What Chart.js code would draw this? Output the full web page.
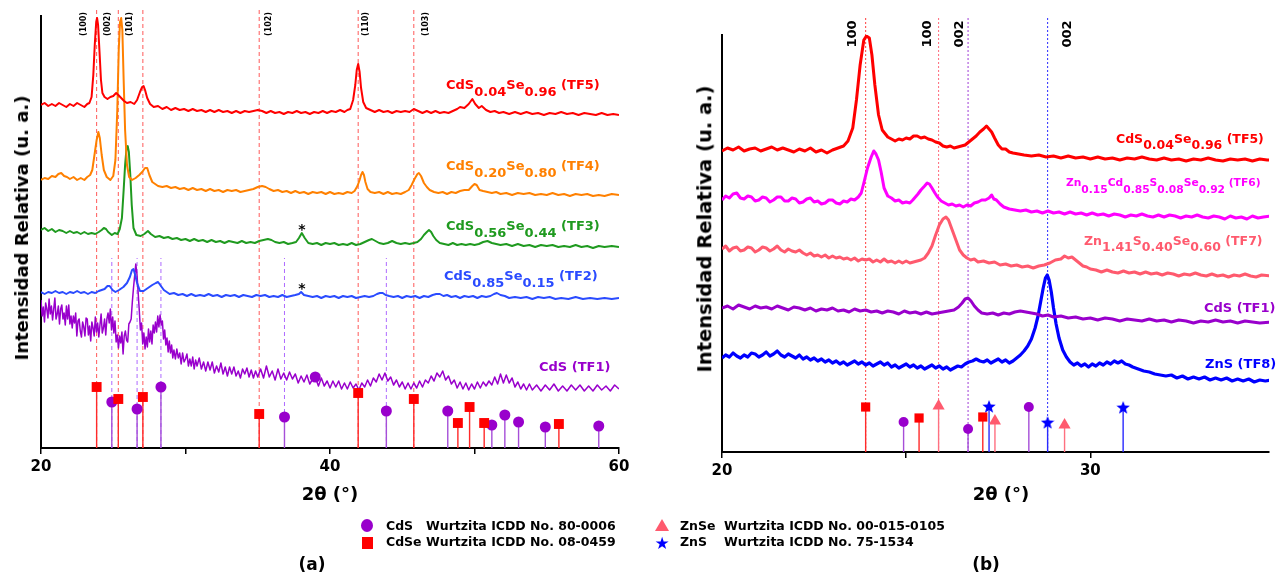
<!DOCTYPE html>
<html>
<head>
<meta charset="utf-8">
<script src="https://cdn.jsdelivr.net/npm/chart.js@4.4.1/dist/chart.umd.min.js"></script>
<style>
body { margin: 0; background: #fff; width: 1276px; height: 573px; overflow: hidden; position: relative; font-family: 'DejaVu Sans', Verdana, sans-serif; font-weight: bold; }
canvas { position: absolute; top: 0; }
.t { position: absolute; white-space: pre; line-height: 1; }
.s { position: relative; top: 7px; }
.s6 { position: relative; top: 6px; }
.c { position: absolute; white-space: pre; line-height: 1; transform: translateX(-50%); }
.rot { position: absolute; white-space: nowrap; line-height: 1; transform: translate(-50%, -50%) rotate(-90deg); }
</style>
</head>
<body>
<canvas id="chartA" width="640" height="500" style="left:0"></canvas>
<canvas id="chartB" width="616" height="500" style="left:660px"></canvas>

<!-- panel (a) text -->
<div class="rot" style="left:22px;top:228px;font-size:18px">Intensidad Relativa (u. a.)</div>
<div class="c" style="left:330px;top:485px;font-size:18px">2θ (°)</div>
<div class="rot" style="left:84px;top:24px;font-size:8px">(100)</div>
<div class="rot" style="left:108px;top:24px;font-size:8px">(002)</div>
<div class="rot" style="left:130px;top:24px;font-size:8px">(101)</div>
<div class="rot" style="left:269px;top:24px;font-size:8px">(102)</div>
<div class="rot" style="left:366px;top:24px;font-size:8px">(110)</div>
<div class="rot" style="left:426px;top:24px;font-size:8px">(103)</div>
<div class="t" style="left:446px;top:78px;color:#ff0000;font-size:13px">CdS<span class="s">0.04</span>Se<span class="s">0.96</span> (TF5)</div>
<div class="t" style="left:446px;top:159px;color:#ff8000;font-size:13px">CdS<span class="s">0.20</span>Se<span class="s">0.80</span> (TF4)</div>
<div class="t" style="left:446px;top:219px;color:#1f9a1f;font-size:13px">CdS<span class="s">0.56</span>Se<span class="s">0.44</span> (TF3)</div>
<div class="t" style="left:444px;top:269px;color:#2a4bff;font-size:13px">CdS<span class="s">0.85</span>Se<span class="s">0.15</span> (TF2)</div>
<div class="t" style="left:539px;top:360px;color:#9900cc;font-size:13px">CdS (TF1)</div>
<div class="c" style="left:302px;top:222px;font-size:14px">*</div>
<div class="c" style="left:302px;top:281px;font-size:14px">*</div>

<!-- panel (b) text -->
<div class="rot" style="left:705px;top:229px;font-size:19.5px">Intensidad Relativa (u. a.)</div>
<div class="c" style="left:1001px;top:485px;font-size:18px">2θ (°)</div>
<div class="rot" style="left:851px;top:34px;font-size:13px">100</div>
<div class="rot" style="left:926px;top:34px;font-size:13px">100</div>
<div class="rot" style="left:958px;top:34px;font-size:13px">002</div>
<div class="rot" style="left:1066px;top:34px;font-size:13px">002</div>
<div class="t" style="left:1116px;top:133px;color:#ff0000;font-size:12.5px">CdS<span class="s6">0.04</span>Se<span class="s6">0.96</span> (TF5)</div>
<div class="t" style="left:1066px;top:178px;color:#ff00ff;font-size:10.7px">Zn<span class="s">0.15</span>Cd<span class="s">0.85</span>S<span class="s">0.08</span>Se<span class="s">0.92</span> (TF6)</div>
<div class="t" style="left:1084px;top:235px;color:#ff5a6e;font-size:12.5px">Zn<span class="s6">1.41</span>S<span class="s6">0.40</span>Se<span class="s6">0.60</span> (TF7)</div>
<div class="t" style="left:1204px;top:301px;color:#9900cc;font-size:13px">CdS (TF1)</div>
<div class="t" style="left:1205px;top:357px;color:#0000ff;font-size:13px">ZnS (TF8)</div>

<!-- legend -->
<div style="position:absolute;left:361px;top:519px;width:12px;height:13px;border-radius:50%;background:#9900cc"></div>
<div style="position:absolute;left:362px;top:537px;width:11px;height:12px;background:#ff0000"></div>
<div style="position:absolute;left:655px;top:519px;width:0;height:0;border-left:7px solid transparent;border-right:7px solid transparent;border-bottom:12px solid #ff5a6e"></div>
<div class="c" style="left:662px;top:535px;font-size:17px;color:#0000ff">★</div>
<div class="t" style="left:386px;top:520px;font-size:12.5px">CdS</div>
<div class="t" style="left:426px;top:520px;font-size:12.5px">Wurtzita ICDD No. 80-0006</div>
<div class="t" style="left:386px;top:536px;font-size:12.5px">CdSe</div>
<div class="t" style="left:426px;top:536px;font-size:12.5px">Wurtzita ICDD No. 08-0459</div>
<div class="t" style="left:680px;top:520px;font-size:12.5px">ZnSe</div>
<div class="t" style="left:724px;top:520px;font-size:12.5px">Wurtzita ICDD No. 00-015-0105</div>
<div class="t" style="left:680px;top:536px;font-size:12.5px">ZnS</div>
<div class="t" style="left:724px;top:536px;font-size:12.5px">Wurtzita ICDD No. 75-1534</div>

<div class="c" style="left:312px;top:556px;font-size:17px">(a)</div>
<div class="c" style="left:986px;top:556px;font-size:17px">(b)</div>

<script>
// ---- panel (a): 2theta vs relative intensity (offset, arbitrary units) ----
const tf5a = [[20,343],[20.25,345],[20.5,342],[20.75,344],[21,342],[21.25,345],[21.5,343],[21.75,341],[22,344],[22.25,342],[22.5,345],[22.75,343],[23,341],[23.2,344],[23.35,345],[23.5,351],[23.62,373],[23.72,403],[23.82,426],[23.88,430],[23.95,423],[24.05,396],[24.15,368],[24.25,355],[24.4,351],[24.6,349],[24.8,351],[25,352],[25.2,355],[25.35,353],[25.55,350],[25.75,347],[25.95,345],[26.2,346],[26.45,344],[26.65,348],[26.85,356],[27,361],[27.1,362],[27.2,358],[27.35,350],[27.55,344],[27.8,341],[28.1,342],[28.4,339],[28.7,341],[29,338],[29.3,340],[29.6,338],[29.9,339],[30.2,337],[30.5,339],[30.8,337],[31.1,338],[31.4,336],[31.7,338],[32,336],[32.3,338],[32.6,336],[32.9,337],[33.2,335],[33.5,337],[33.8,335],[34.1,337],[34.4,336],[34.7,337],[35,338],[35.3,337],[35.6,335],[35.9,337],[36.2,335],[36.5,336],[36.8,334],[37.1,336],[37.4,335],[37.7,337],[38,335],[38.3,336],[38.6,334],[38.9,336],[39.2,335],[39.5,337],[39.8,335],[40.1,337],[40.4,336],[40.7,338],[41,336],[41.2,338],[41.4,339],[41.6,348],[41.75,363],[41.85,378],[41.95,384],[42.05,376],[42.15,360],[42.3,346],[42.5,340],[42.8,338],[43.1,336],[43.4,338],[43.7,336],[44,337],[44.3,335],[44.6,337],[44.9,336],[45.2,337],[45.5,336],[45.8,339],[46.1,337],[46.4,335],[46.7,337],[47,335],[47.3,337],[47.6,335],[47.9,336],[48.2,335],[48.5,337],[48.8,339],[49,341],[49.3,340],[49.6,344],[49.85,349],[50.05,344],[50.3,340],[50.5,342],[50.8,338],[51.1,336],[51.4,337],[51.7,335],[52,336],[52.4,334],[52.8,336],[53.2,334],[53.6,336],[54,334],[54.4,335],[54.8,333],[55.2,335],[55.6,334],[56,336],[56.4,334],[56.8,335],[57.2,333],[57.6,335],[58,334],[58.4,333],[58.8,335],[59.2,333],[59.6,334],[60,333]];
const tf4a = [[20,268],[20.25,270],[20.5,269],[20.75,272],[21,271],[21.2,274],[21.4,275],[21.6,272],[21.8,271],[22,269],[22.25,271],[22.5,268],[22.75,270],[23,268],[23.2,271],[23.4,273],[23.55,278],[23.7,293],[23.85,308],[23.97,316],[24.07,310],[24.2,293],[24.35,278],[24.55,271],[24.8,268],[25,272],[25.15,288],[25.28,338],[25.38,398],[25.47,426],[25.55,430],[25.63,418],[25.72,368],[25.82,318],[25.95,283],[26.1,271],[26.3,268],[26.55,270],[26.8,273],[27,276],[27.2,280],[27.35,280],[27.5,273],[27.7,266],[27.9,264],[28.1,262],[28.4,261],[28.7,262],[29,260],[29.3,261],[29.6,259],[29.9,260],[30.2,258],[30.5,260],[30.8,258],[31.1,259],[31.4,257],[31.7,259],[32,257],[32.3,258],[32.6,256],[32.9,258],[33.2,257],[33.5,258],[33.8,256],[34.1,257],[34.4,258],[34.7,259],[35,261],[35.3,262],[35.55,261],[35.8,259],[36.1,257],[36.4,258],[36.7,256],[37,257],[37.3,255],[37.6,257],[37.9,255],[38.2,256],[38.5,254],[38.8,256],[39.1,255],[39.4,256],[39.7,254],[40,256],[40.3,254],[40.6,255],[40.9,254],[41.2,256],[41.5,255],[41.7,257],[41.9,262],[42.05,268],[42.15,273],[42.25,276],[42.35,273],[42.45,266],[42.6,259],[42.8,256],[43.1,255],[43.4,256],[43.7,254],[44,256],[44.3,254],[44.6,255],[44.9,254],[45.2,256],[45.45,258],[45.65,263],[45.85,269],[46.05,274],[46.15,275],[46.3,272],[46.5,265],[46.7,261],[46.9,258],[47.2,256],[47.5,255],[47.8,256],[48.1,254],[48.4,256],[48.7,255],[49,257],[49.3,258],[49.6,258],[49.85,262],[50,264],[50.15,263],[50.35,258],[50.6,257],[50.9,256],[51.2,255],[51.5,256],[51.8,254],[52.2,255],[52.6,253],[53,255],[53.4,254],[53.8,255],[54.2,253],[54.6,254],[55,253],[55.4,255],[55.8,253],[56.2,254],[56.6,252],[57,254],[57.4,253],[57.8,254],[58.2,252],[58.6,253],[59,252],[59.5,254],[60,253]];
const tf3a = [[20,218],[20.25,220],[20.5,217],[20.75,219],[21,216],[21.25,218],[21.5,217],[21.75,215],[22,217],[22.25,215],[22.5,216],[22.75,214],[23,216],[23.25,214],[23.5,215],[23.75,214],[24,216],[24.2,218],[24.35,220],[24.5,219],[24.65,216],[24.9,213],[25.1,215],[25.3,214],[25.45,219],[25.6,230],[25.72,258],[25.82,283],[25.92,300],[26,302],[26.08,296],[26.18,273],[26.28,243],[26.4,220],[26.6,213],[26.9,212],[27.15,214],[27.4,217],[27.6,214],[27.9,211],[28.2,212],[28.5,210],[28.8,211],[29.1,209],[29.4,210],[29.7,208],[30,209],[30.3,207],[30.6,209],[30.9,207],[31.2,208],[31.5,206],[31.8,208],[32.1,206],[32.4,207],[32.7,205],[33,207],[33.3,206],[33.6,205],[33.9,207],[34.2,205],[34.5,206],[34.8,205],[35.1,207],[35.4,208],[35.7,209],[35.95,208],[36.2,206],[36.5,205],[36.8,206],[37.1,204],[37.4,205],[37.65,206],[37.85,210],[38.05,215],[38.25,210],[38.5,205],[38.8,204],[39.1,205],[39.4,203],[39.7,205],[40,204],[40.3,205],[40.6,203],[40.9,204],[41.2,203],[41.5,205],[41.8,203],[42.1,204],[42.4,206],[42.7,208],[42.9,209],[43.15,207],[43.4,205],[43.7,204],[44,205],[44.3,207],[44.6,205],[44.9,204],[45.2,205],[45.5,204],[45.8,205],[46.05,206],[46.3,209],[46.5,213],[46.7,216],[46.85,218],[47,216],[47.15,212],[47.35,208],[47.6,205],[47.9,204],[48.2,203],[48.5,205],[48.8,203],[49.1,204],[49.4,203],[49.7,204],[50,203],[50.3,204],[50.6,206],[50.9,207],[51.2,205],[51.5,204],[51.8,203],[52.2,204],[52.6,202],[53,204],[53.4,202],[53.8,203],[54.2,201],[54.6,203],[55,202],[55.4,203],[55.8,201],[56.2,202],[56.6,201],[57,203],[57.4,201],[57.8,202],[58.2,200],[58.6,202],[59,201],[59.5,202],[60,201]];
const tf2a = [[20,156],[20.25,154],[20.5,156],[20.75,155],[21,157],[21.25,155],[21.5,156],[21.75,154],[22,156],[22.25,155],[22.5,157],[22.75,155],[23,156],[23.25,154],[23.5,156],[23.75,155],[24,157],[24.2,158],[24.4,159],[24.6,162],[24.75,162],[24.95,158],[25.15,156],[25.4,158],[25.7,161],[25.95,165],[26.15,171],[26.3,178],[26.4,179],[26.5,174],[26.65,165],[26.85,157],[27.1,157],[27.4,160],[27.7,163],[27.95,165],[28.1,166],[28.25,163],[28.5,158],[28.7,156],[28.9,154],[29.2,155],[29.5,153],[29.8,154],[30.1,152],[30.4,154],[30.7,152],[31,153],[31.3,152],[31.6,154],[31.9,152],[32.2,153],[32.5,151],[32.8,153],[33.1,152],[33.4,153],[33.7,151],[34,153],[34.3,152],[34.6,151],[34.9,153],[35.2,152],[35.5,153],[35.8,151],[36.1,152],[36.4,151],[36.7,153],[37,151],[37.3,152],[37.6,153],[37.85,154],[38,156],[38.2,153],[38.5,152],[38.8,151],[39.1,152],[39.4,150],[39.7,152],[40,151],[40.3,152],[40.6,150],[40.9,152],[41.2,151],[41.5,152],[41.8,150],[42.1,151],[42.4,152],[42.7,151],[43,152],[43.25,154],[43.45,155],[43.65,155],[43.85,153],[44.1,152],[44.4,151],[44.7,152],[45,150],[45.3,152],[45.6,151],[45.9,152],[46.2,150],[46.5,152],[46.8,151],[47.1,153],[47.35,154],[47.6,154],[47.85,152],[48.1,153],[48.4,151],[48.7,152],[49,150],[49.3,152],[49.6,151],[49.9,152],[50.2,150],[50.5,152],[50.8,151],[51.1,152],[51.35,154],[51.55,155],[51.8,153],[52.1,152],[52.4,150],[52.8,151],[53.2,150],[53.6,151],[54,149],[54.4,151],[54.8,150],[55.2,151],[55.6,149],[56,150],[56.5,149],[57,151],[57.5,149],[58,150],[58.5,149],[59,150],[59.5,149],[60,150]];
const tf1a = [[20,148],[20.08,132],[20.16,141],[20.24,126],[20.32,145],[20.4,139],[20.48,130],[20.56,149],[20.64,134],[20.72,142],[20.8,128],[20.88,139],[20.96,150],[21.04,129],[21.12,134],[21.2,142],[21.28,124],[21.36,139],[21.44,143],[21.52,129],[21.6,135],[21.68,123],[21.76,142],[21.84,129],[21.92,143],[22,124],[22.08,132],[22.16,120],[22.24,132],[22.32,125],[22.4,135],[22.48,112],[22.56,127],[22.64,129],[22.72,117],[22.8,111],[22.88,126],[22.96,121],[23.04,112],[23.12,130],[23.2,129],[23.28,113],[23.36,122],[23.44,107],[23.52,126],[23.6,120],[23.68,112],[23.76,131],[23.84,116],[23.92,125],[24,111],[24.08,123],[24.16,134],[24.24,115],[24.32,120],[24.4,129],[24.48,113],[24.56,129],[24.64,135],[24.72,125],[24.8,139],[24.88,118],[24.96,131],[25.04,115],[25.12,127],[25.2,106],[25.28,113],[25.36,100],[25.44,112],[25.52,105],[25.6,116],[25.68,94],[25.76,112],[25.84,117],[25.92,108],[26,106],[26.08,124],[26.16,126],[26.24,129],[26.32,146],[26.4,160],[26.48,172],[26.56,184],[26.64,174],[26.72,156],[26.8,138],[26.88,118],[26.96,125],[27.04,104],[27.12,115],[27.2,99],[27.28,111],[27.36,101],[27.44,119],[27.52,106],[27.6,117],[27.68,104],[27.76,123],[27.84,115],[27.92,126],[28,116],[28.08,132],[28.16,121],[28.24,133],[28.32,123],[28.4,127],[28.48,109],[28.56,118],[28.64,103],[28.72,110],[28.8,96],[28.88,107],[28.96,95],[29.04,103],[29.12,90],[29.2,98],[29.3,89],[29.4,99],[29.5,90],[29.6,95],[29.7,84],[29.8,95],[29.9,86],[30,89],[30.1,94],[30.2,82],[30.3,89],[30.4,82],[30.5,91],[30.6,79],[30.7,88],[30.8,82],[30.95,90],[31.1,79],[31.25,86],[31.4,77],[31.55,86],[31.7,78],[31.85,86],[32,75],[32.15,82],[32.3,76],[32.45,85],[32.6,74],[32.75,81],[32.9,72],[33.05,81],[33.2,74],[33.35,81],[33.5,72],[33.65,77],[33.8,70],[33.95,79],[34.1,74],[34.25,80],[34.4,71],[34.55,78],[34.7,70],[34.85,77],[35,71],[35.2,79],[35.4,70],[35.6,82],[35.8,71],[36,77],[36.2,68],[36.4,79],[36.6,69],[36.8,75],[37,68],[37.2,76],[37.4,69],[37.6,74],[37.8,65],[38,72],[38.2,66],[38.4,73],[38.6,64],[38.8,69],[39,70],[39.2,62],[39.4,70],[39.6,62],[39.8,67],[40,60],[40.2,67],[40.4,61],[40.6,67],[40.8,59],[41,65],[41.2,59],[41.4,66],[41.6,60],[41.8,64],[42,58],[42.2,65],[42.4,61],[42.6,68],[42.8,62],[43,70],[43.2,66],[43.4,74],[43.6,68],[43.8,75],[44,67],[44.2,71],[44.4,63],[44.6,68],[44.8,61],[45,66],[45.2,59],[45.4,65],[45.6,59],[45.8,65],[46,60],[46.2,67],[46.4,61],[46.6,68],[46.8,65],[47,72],[47.2,67],[47.4,75],[47.6,71],[47.8,77],[48,68],[48.2,72],[48.4,64],[48.6,68],[48.8,60],[49,66],[49.2,59],[49.4,65],[49.6,58],[49.8,64],[50,59],[50.2,66],[50.4,60],[50.6,66],[50.8,62],[51,67],[51.2,63],[51.4,71],[51.6,64],[51.8,74],[52,65],[52.2,73],[52.4,65],[52.6,70],[52.8,61],[53,66],[53.2,59],[53.4,64],[53.6,58],[53.8,64],[54,58],[54.3,63],[54.6,57],[54.9,63],[55.2,58],[55.5,64],[55.8,57],[56.1,62],[56.4,57],[56.7,63],[57,58],[57.3,63],[57.6,57],[57.9,62],[58.2,57],[58.5,63],[58.8,58],[59.1,62],[59.4,57],[59.7,63],[60,59]];

// reference patterns, panel (a): [2theta, stick height]
const cdseA = [[23.85,61],[25.35,49],[27.05,51],[35.1,34],[41.95,55],[45.8,49],[48.85,25],[49.66,41],[50.67,25],[55.84,24]];
const cdsA = [[24.9,46],[26.65,39],[28.3,61],[36.85,31],[43.9,37],[48.15,37],[51.2,23],[52.1,33],[53.05,26],[54.9,21],[58.6,22]];
const cdsLoneA = [[38.98,71]];
const refRedA = [23.85, 25.35, 27.05, 35.1, 41.95, 45.8];
const refPurpleA = [24.9, 26.65, 28.3, 36.85, 43.9];

// ---- panel (b) ----
const tf5b = [[20,301],[20.15,304],[20.3,302],[20.45,305],[20.6,301],[20.75,303],[20.9,304],[21.05,301],[21.2,303],[21.35,305],[21.5,302],[21.65,304],[21.8,302],[21.95,300],[22.1,303],[22.25,301],[22.4,304],[22.55,300],[22.7,302],[22.85,299],[23,302],[23.15,304],[23.3,306],[23.42,311],[23.55,324],[23.65,352],[23.75,387],[23.85,412],[23.92,416],[24,414],[24.07,397],[24.15,367],[24.25,337],[24.35,322],[24.5,315],[24.6,313],[24.7,311],[24.8,313],[24.9,312],[25,314],[25.1,313],[25.2,316],[25.3,316],[25.4,314],[25.5,315],[25.6,313],[25.7,312],[25.8,310],[25.9,309],[26,306],[26.1,305],[26.2,306],[26.3,304],[26.4,305],[26.5,306],[26.6,307],[26.7,310],[26.8,313],[26.9,316],[27,320],[27.1,323],[27.18,326],[27.25,323],[27.32,320],[27.4,314],[27.5,307],[27.6,303],[27.7,303],[27.8,300],[27.9,299],[28.05,298],[28.2,297],[28.4,296],[28.6,297],[28.8,295],[29,296],[29.2,294],[29.4,296],[29.6,294],[29.8,295],[30,293],[30.2,295],[30.4,293],[30.6,294],[30.8,292],[31,294],[31.2,293],[31.4,295],[31.6,293],[31.8,292],[32,294],[32.2,292],[32.4,293],[32.6,291],[32.8,293],[33,292],[33.2,294],[33.4,292],[33.6,291],[33.8,293],[34,292],[34.2,293],[34.4,291],[34.6,293],[34.8,292],[34.9,292]];
const tf6b = [[20,252],[20.1,256],[20.2,254],[20.3,258],[20.4,259],[20.5,254],[20.6,253],[20.7,256],[20.8,255],[20.9,251],[21,252],[21.1,255],[21.2,254],[21.3,250],[21.4,252],[21.5,255],[21.6,255],[21.7,251],[21.8,251],[21.9,254],[22,253],[22.1,249],[22.2,250],[22.3,253],[22.4,254],[22.5,250],[22.6,251],[22.7,248],[22.8,249],[22.9,252],[23,252],[23.1,249],[23.2,248],[23.3,251],[23.4,250],[23.5,253],[23.6,252],[23.7,255],[23.78,259],[23.85,269],[23.95,284],[24.05,295],[24.12,301],[24.18,298],[24.25,292],[24.32,280],[24.4,264],[24.5,256],[24.6,254],[24.7,251],[24.8,252],[24.9,249],[25,250],[25.1,249],[25.18,252],[25.25,255],[25.32,258],[25.4,262],[25.5,266],[25.57,269],[25.63,268],[25.7,264],[25.78,259],[25.85,255],[25.95,251],[26.05,249],[26.15,247],[26.25,248],[26.35,246],[26.45,247],[26.55,245],[26.65,247],[26.75,246],[26.85,249],[26.95,250],[27.05,252],[27.15,252],[27.25,254],[27.32,257],[27.38,253],[27.45,252],[27.55,248],[27.65,245],[27.8,243],[27.95,242],[28.1,241],[28.25,242],[28.4,240],[28.55,241],[28.7,239],[28.85,241],[29,239],[29.15,240],[29.3,238],[29.45,240],[29.6,238],[29.75,239],[29.9,237],[30.05,239],[30.2,237],[30.35,238],[30.5,236],[30.65,238],[30.8,237],[30.95,235],[31.1,237],[31.25,236],[31.4,238],[31.55,236],[31.7,235],[31.85,237],[32,235],[32.15,237],[32.3,236],[32.45,234],[32.6,236],[32.75,235],[32.9,237],[33.05,235],[33.2,234],[33.35,236],[33.5,235],[33.65,233],[33.8,236],[33.95,234],[34.1,235],[34.25,233],[34.4,236],[34.55,234],[34.7,235],[34.9,236]];
const tf7b = [[20,203],[20.1,206],[20.2,201],[20.3,204],[20.4,205],[20.5,201],[20.6,202],[20.7,205],[20.8,204],[20.9,200],[21,202],[21.1,205],[21.2,204],[21.3,201],[21.4,203],[21.5,206],[21.6,202],[21.7,200],[21.8,203],[21.9,201],[22,200],[22.1,202],[22.2,199],[22.3,197],[22.4,199],[22.5,196],[22.6,197],[22.7,195],[22.8,197],[22.9,194],[23,196],[23.1,194],[23.2,195],[23.3,193],[23.4,194],[23.5,192],[23.6,194],[23.7,191],[23.8,193],[23.9,192],[24,193],[24.1,190],[24.2,192],[24.3,190],[24.4,193],[24.5,190],[24.6,191],[24.7,189],[24.8,191],[24.9,189],[25,191],[25.1,189],[25.2,190],[25.3,191],[25.4,192],[25.5,194],[25.6,199],[25.7,206],[25.8,217],[25.9,227],[26,233],[26.08,235],[26.15,232],[26.25,222],[26.35,212],[26.45,202],[26.55,197],[26.65,194],[26.75,192],[26.85,193],[26.95,190],[27.1,191],[27.25,189],[27.4,190],[27.55,187],[27.7,188],[27.85,186],[28,187],[28.15,185],[28.3,186],[28.45,184],[28.6,186],[28.75,187],[28.9,189],[29.05,192],[29.2,193],[29.3,196],[29.4,194],[29.5,195],[29.6,192],[29.7,189],[29.8,186],[29.9,185],[30,183],[30.15,182],[30.3,180],[30.45,182],[30.6,180],[30.75,179],[30.9,181],[31.05,179],[31.2,180],[31.35,178],[31.5,180],[31.65,178],[31.8,179],[31.95,177],[32.1,179],[32.25,178],[32.4,176],[32.55,178],[32.7,177],[32.85,179],[33,177],[33.15,176],[33.3,178],[33.45,176],[33.6,177],[33.75,175],[33.9,177],[34.05,176],[34.2,178],[34.35,176],[34.5,175],[34.65,177],[34.9,176]];
const tf1b = [[20,144],[20.15,146],[20.3,143],[20.45,147],[20.6,145],[20.75,143],[20.9,146],[21.05,144],[21.2,145],[21.35,143],[21.5,146],[21.65,144],[21.8,142],[21.95,145],[22.1,144],[22.25,142],[22.4,144],[22.55,141],[22.7,143],[22.85,142],[23,144],[23.15,141],[23.3,142],[23.45,140],[23.6,143],[23.75,141],[23.9,142],[24.05,140],[24.2,141],[24.35,139],[24.5,141],[24.65,140],[24.8,138],[24.95,141],[25.1,139],[25.25,140],[25.4,138],[25.55,140],[25.7,138],[25.85,139],[26,140],[26.15,141],[26.3,142],[26.42,145],[26.52,149],[26.6,153],[26.68,154],[26.76,151],[26.85,146],[26.95,142],[27.05,139],[27.2,138],[27.35,139],[27.5,137],[27.65,139],[27.8,138],[27.95,140],[28.1,141],[28.25,140],[28.4,139],[28.55,138],[28.7,136],[28.85,137],[29,135],[29.2,136],[29.4,134],[29.6,135],[29.8,133],[30,134],[30.2,132],[30.4,134],[30.6,133],[30.8,131],[31,133],[31.2,132],[31.4,131],[31.6,133],[31.8,131],[32,132],[32.2,130],[32.4,132],[32.6,131],[32.8,129],[33,131],[33.2,130],[33.4,132],[33.6,130],[33.8,131],[34,129],[34.2,131],[34.4,130],[34.6,129],[34.9,130]];
const tf8b = [[20,94],[20.1,97],[20.2,95],[20.3,99],[20.4,96],[20.5,94],[20.6,97],[20.7,95],[20.8,99],[20.9,98],[21,95],[21.1,97],[21.2,100],[21.3,96],[21.4,98],[21.5,101],[21.6,97],[21.7,95],[21.8,98],[21.9,96],[22,94],[22.1,97],[22.2,93],[22.3,95],[22.4,92],[22.5,94],[22.6,91],[22.7,93],[22.8,90],[22.9,92],[23,89],[23.1,91],[23.2,88],[23.3,90],[23.4,87],[23.5,89],[23.6,91],[23.7,88],[23.8,90],[23.9,87],[24,89],[24.1,86],[24.2,88],[24.3,90],[24.4,87],[24.5,89],[24.6,85],[24.7,87],[24.8,84],[24.9,86],[25,88],[25.1,85],[25.2,87],[25.3,84],[25.4,86],[25.5,83],[25.6,85],[25.7,87],[25.8,84],[25.9,86],[26,83],[26.1,85],[26.2,82],[26.3,84],[26.4,86],[26.5,85],[26.6,88],[26.7,90],[26.8,91],[26.9,93],[27,91],[27.1,90],[27.2,92],[27.3,89],[27.4,91],[27.5,93],[27.6,90],[27.7,92],[27.8,89],[27.9,91],[28,94],[28.1,97],[28.2,101],[28.3,106],[28.4,113],[28.5,124],[28.58,136],[28.65,150],[28.72,164],[28.78,174],[28.83,177],[28.88,172],[28.94,160],[29,144],[29.07,128],[29.15,114],[29.25,102],[29.35,95],[29.45,90],[29.55,87],[29.65,89],[29.75,86],[29.85,88],[29.95,85],[30.05,88],[30.15,86],[30.25,89],[30.35,87],[30.45,90],[30.55,88],[30.65,91],[30.75,89],[30.85,91],[30.95,88],[31.05,87],[31.15,85],[31.3,83],[31.45,81],[31.6,80],[31.75,78],[31.9,77],[32.05,76],[32.2,77],[32.35,74],[32.5,76],[32.65,73],[32.8,75],[32.95,73],[33.1,75],[33.25,72],[33.4,74],[33.55,72],[33.7,74],[33.85,71],[34,73],[34.15,71],[34.3,73],[34.45,70],[34.6,72],[34.75,71],[34.9,72]];

const cdseB = [[23.9,45],[25.35,34],[27.08,35]];
const cdsB = [[24.93,30],[26.68,23],[28.33,45]];
const znseB = [[25.88,46],[27.41,31],[29.3,27]];
const znsB = [[27.25,45],[28.84,29],[30.89,44]];
const refB = [[23.9,'rgba(255,40,40,0.9)'],[25.88,'rgba(255,90,110,0.9)'],[26.68,'rgba(150,40,210,0.9)'],[28.84,'rgba(20,20,255,0.9)']];

// ---- helpers ----
const pts = arr => arr.map(p => ({ x: p[0], y: p[1] }));

function stemPts(arr) {
    const out = [];
    arr.forEach(p => { out.push({ x: p[0], y: 0 }, { x: p[0], y: p[1] }, { x: p[0], y: null }); });
    return out;
}

function vlinePts(xs, top) {
    return stemPts(xs.map(x => [x, top]));
}

function trace(data, color, width) {
    return { data: pts(data), borderColor: color, borderWidth: width, showLine: true, pointRadius: 0, tension: 0, borderJoinStyle: 'round', order: 3 };
}

function stemSet(data, color) {
    return { data: stemPts(data), borderColor: color, borderWidth: 1.4, showLine: true, pointRadius: 0, spanGaps: false, order: 2 };
}

function markSet(data, style, color, r) {
    return { data: pts(data), showLine: false, pointStyle: style, pointRadius: r, backgroundColor: color, borderColor: color, borderWidth: 0, order: 1 };
}

function refSet(xs, top, color, dash) {
    return { data: vlinePts(xs, top), borderColor: color, borderWidth: 1, borderDash: dash, showLine: true, pointRadius: 0, spanGaps: false, clip: false, order: 4 };
}

function starImage(size, color) {
    const c = document.createElement('canvas');
    c.width = size; c.height = size;
    const g = c.getContext('2d');
    g.fillStyle = color;
    g.beginPath();
    for (let i = 0; i < 10; i++) {
        const r = i % 2 ? size * 0.21 : size / 2;
        const a = -Math.PI / 2 + i * Math.PI / 5;
        g.lineTo(size / 2 + r * Math.cos(a), size / 2 + r * Math.sin(a));
    }
    g.closePath();
    g.fill();
    return c;
}

const tickFont = { family: 'DejaVu Sans', weight: 'bold', size: 15 };

function xScale(min, max, step, shown, height) {
    return {
        type: 'linear', min: min, max: max, position: 'bottom',
        afterFit: s => { s.height = height; },
        border: { display: true, color: '#000', width: 2 },
        grid: { display: true, drawOnChartArea: false, drawTicks: true, tickLength: 6, color: '#000', lineWidth: 1.5 },
        ticks: { stepSize: step, includeBounds: false, autoSkip: false, maxRotation: 0, padding: 4, color: '#000', font: tickFont,
                 callback: v => shown.includes(v) ? v : '' }
    };
}

function yScale(max, width) {
    return {
        min: 0, max: max,
        afterFit: s => { s.width = width; },
        border: { display: true, color: '#000', width: 2 },
        grid: { display: false },
        ticks: { display: false }
    };
}

const baseOpts = { responsive: false, animation: false, events: [], plugins: { legend: { display: false }, tooltip: { enabled: false } } };

new Chart(document.getElementById('chartA'), {
    type: 'scatter',
    data: {
        datasets: [
            markSet(cdseA, 'rect', '#ff0000', 7),
            markSet(cdsA, 'circle', '#9900cc', 5.5),
            markSet(cdsLoneA, 'circle', '#9900cc', 5.5),
            stemSet(cdseA, '#ff2a2a'),
            stemSet(cdsA, '#a64fd8'),
            trace(tf5a, '#ff0000', 2),
            trace(tf4a, '#ff8000', 2),
            trace(tf3a, '#1f9a1f', 2),
            trace(tf2a, '#2a4bff', 2),
            trace(tf1a, '#9900cc', 1.5),
            refSet(refRedA, 438, 'rgba(255,60,60,0.85)', [4, 3]),
            refSet(refPurpleA, 190, 'rgba(160,80,255,0.85)', [4, 3])
        ]
    },
    options: Object.assign({}, baseOpts, {
        layout: { padding: { top: 16, right: 21, left: 0, bottom: 0 } },
        scales: { x: xScale(20, 60, 10, [20, 40, 60], 52), y: yScale(432, 41) }
    })
});

new Chart(document.getElementById('chartB'), {
    type: 'scatter',
    data: {
        datasets: [
            markSet(cdseB, 'rect', '#ff0000', 6.5),
            markSet(cdsB, 'circle', '#9900cc', 5),
            markSet(znseB, 'triangle', '#ff5a6e', 7),
            markSet(znsB, starImage(14, '#0000ff'), '#0000ff', 7),
            stemSet(cdseB, '#ff2a2a'),
            stemSet(cdsB, '#a64fd8'),
            stemSet(znseB, '#ff7080'),
            stemSet(znsB, '#2a2aff'),
            trace(tf5b, '#ff0000', 3),
            trace(tf6b, '#ff00ff', 3),
            trace(tf7b, '#ff5a6e', 3),
            trace(tf1b, '#9900cc', 3),
            trace(tf8b, '#0000ff', 3.2),
            ...refB.map(r => refSet([r[0]], 434, r[1], [2, 2]))
        ]
    },
    options: Object.assign({}, baseOpts, {
        layout: { padding: { top: 35, right: 0, left: 0, bottom: 0 } },
        scales: { x: xScale(20, 34.85, 5, [20, 30], 48), y: yScale(417, 62) }
    })
});
</script>
</body>
</html>
